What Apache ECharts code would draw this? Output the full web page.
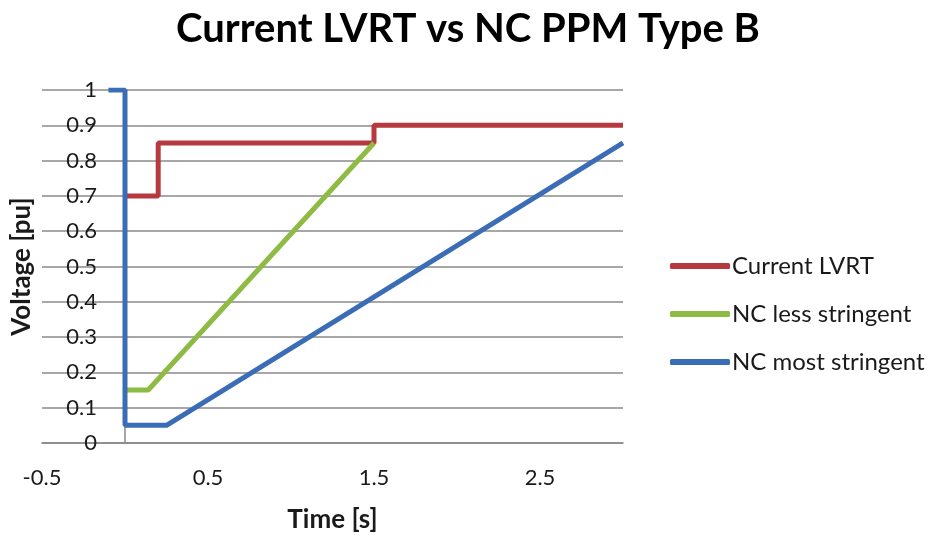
<!DOCTYPE html>
<html><head><meta charset="utf-8">
<script src="https://cdn.jsdelivr.net/npm/echarts@6/dist/echarts.min.js"></script>
<style>html,body{margin:0;padding:0;background:#fff}#c{width:932px;height:535px}</style>
</head><body><div id="c"></div>
<script>
const seriesNames = ['Current LVRT', 'NC less stringent', 'NC most stringent'];
const currentLVRT = [[0, 0.7], [0.2, 0.7], [0.2, 0.85], [1.5, 0.85], [1.5, 0.9], [3, 0.9]];
const ncLess = [[0, 0.15], [0.14, 0.15], [1.5, 0.85]];
const ncMost = [[-0.1, 1], [0, 1], [0, 0.05], [0.25, 0.05], [3, 0.85]];
const colors = ['#B5393E', '#8DBB44', '#3B6DB6'];
const font = 'Lato, "Open Sans", sans-serif';

const chart = echarts.init(document.getElementById('c'));
chart.setOption({
  animation: false,
  title: {
    text: 'Current LVRT vs NC PPM Type B',
    left: 463, top: 4, textAlign: 'center',
    textStyle: {fontFamily: font, fontSize: 40, fontWeight: 'bold', color: '#000'}
  },
  legend: {
    orient: 'vertical', left: 665, top: 249, itemGap: 24,
    itemWidth: 60, itemHeight: 6, icon: 'roundRect',
    textStyle: {fontFamily: font, fontSize: 24, color: '#1a1a1a', padding: [0, 0, 0, -3]},
    data: seriesNames
  },
  grid: {left: 42, right: 309, top: 90, bottom: 92, containLabel: false, outerBoundsMode: 'none'},
  xAxis: {
    type: 'value', min: -0.5, max: 3, interval: 1,
    name: 'Time [s]', nameLocation: 'middle', nameGap: 64,
    nameTextStyle: {fontFamily: font, fontSize: 26, fontWeight: 'bold', color: '#1a1a1a'},
    axisLine: {onZero: true, lineStyle: {color: '#888', width: 1.5}},
    axisTick: {show: false},
    axisLabel: {margin: 24, fontFamily: font, fontSize: 22, color: '#1a1a1a', showMaxLabel: false},
    splitLine: {show: false}
  },
  yAxis: {
    type: 'value', min: 0, max: 1, interval: 0.1,
    name: 'Voltage [pu]', nameLocation: 'middle', nameGap: 7,
    nameTextStyle: {fontFamily: font, fontSize: 26, fontWeight: 'bold', color: '#1a1a1a'},
    axisLine: {show: true, onZero: true, lineStyle: {color: '#888', width: 1.5}},
    axisTick: {show: false},
    axisLabel: {margin: -55, fontFamily: font, fontSize: 22, color: '#1a1a1a',
      formatter: v => String(Math.round(v * 10) / 10)},
    splitLine: {show: true, lineStyle: {color: '#8a8a8a', width: 1.5}}
  },
  series: [
    {name: seriesNames[0], type: 'line', data: currentLVRT, showSymbol: false, color: colors[0], lineStyle: {width: 5}},
    {name: seriesNames[1], type: 'line', data: ncLess, showSymbol: false, color: colors[1], lineStyle: {width: 5}},
    {name: seriesNames[2], type: 'line', data: ncMost, showSymbol: false, color: colors[2], lineStyle: {width: 5}}
  ]
});
</script></body></html>
